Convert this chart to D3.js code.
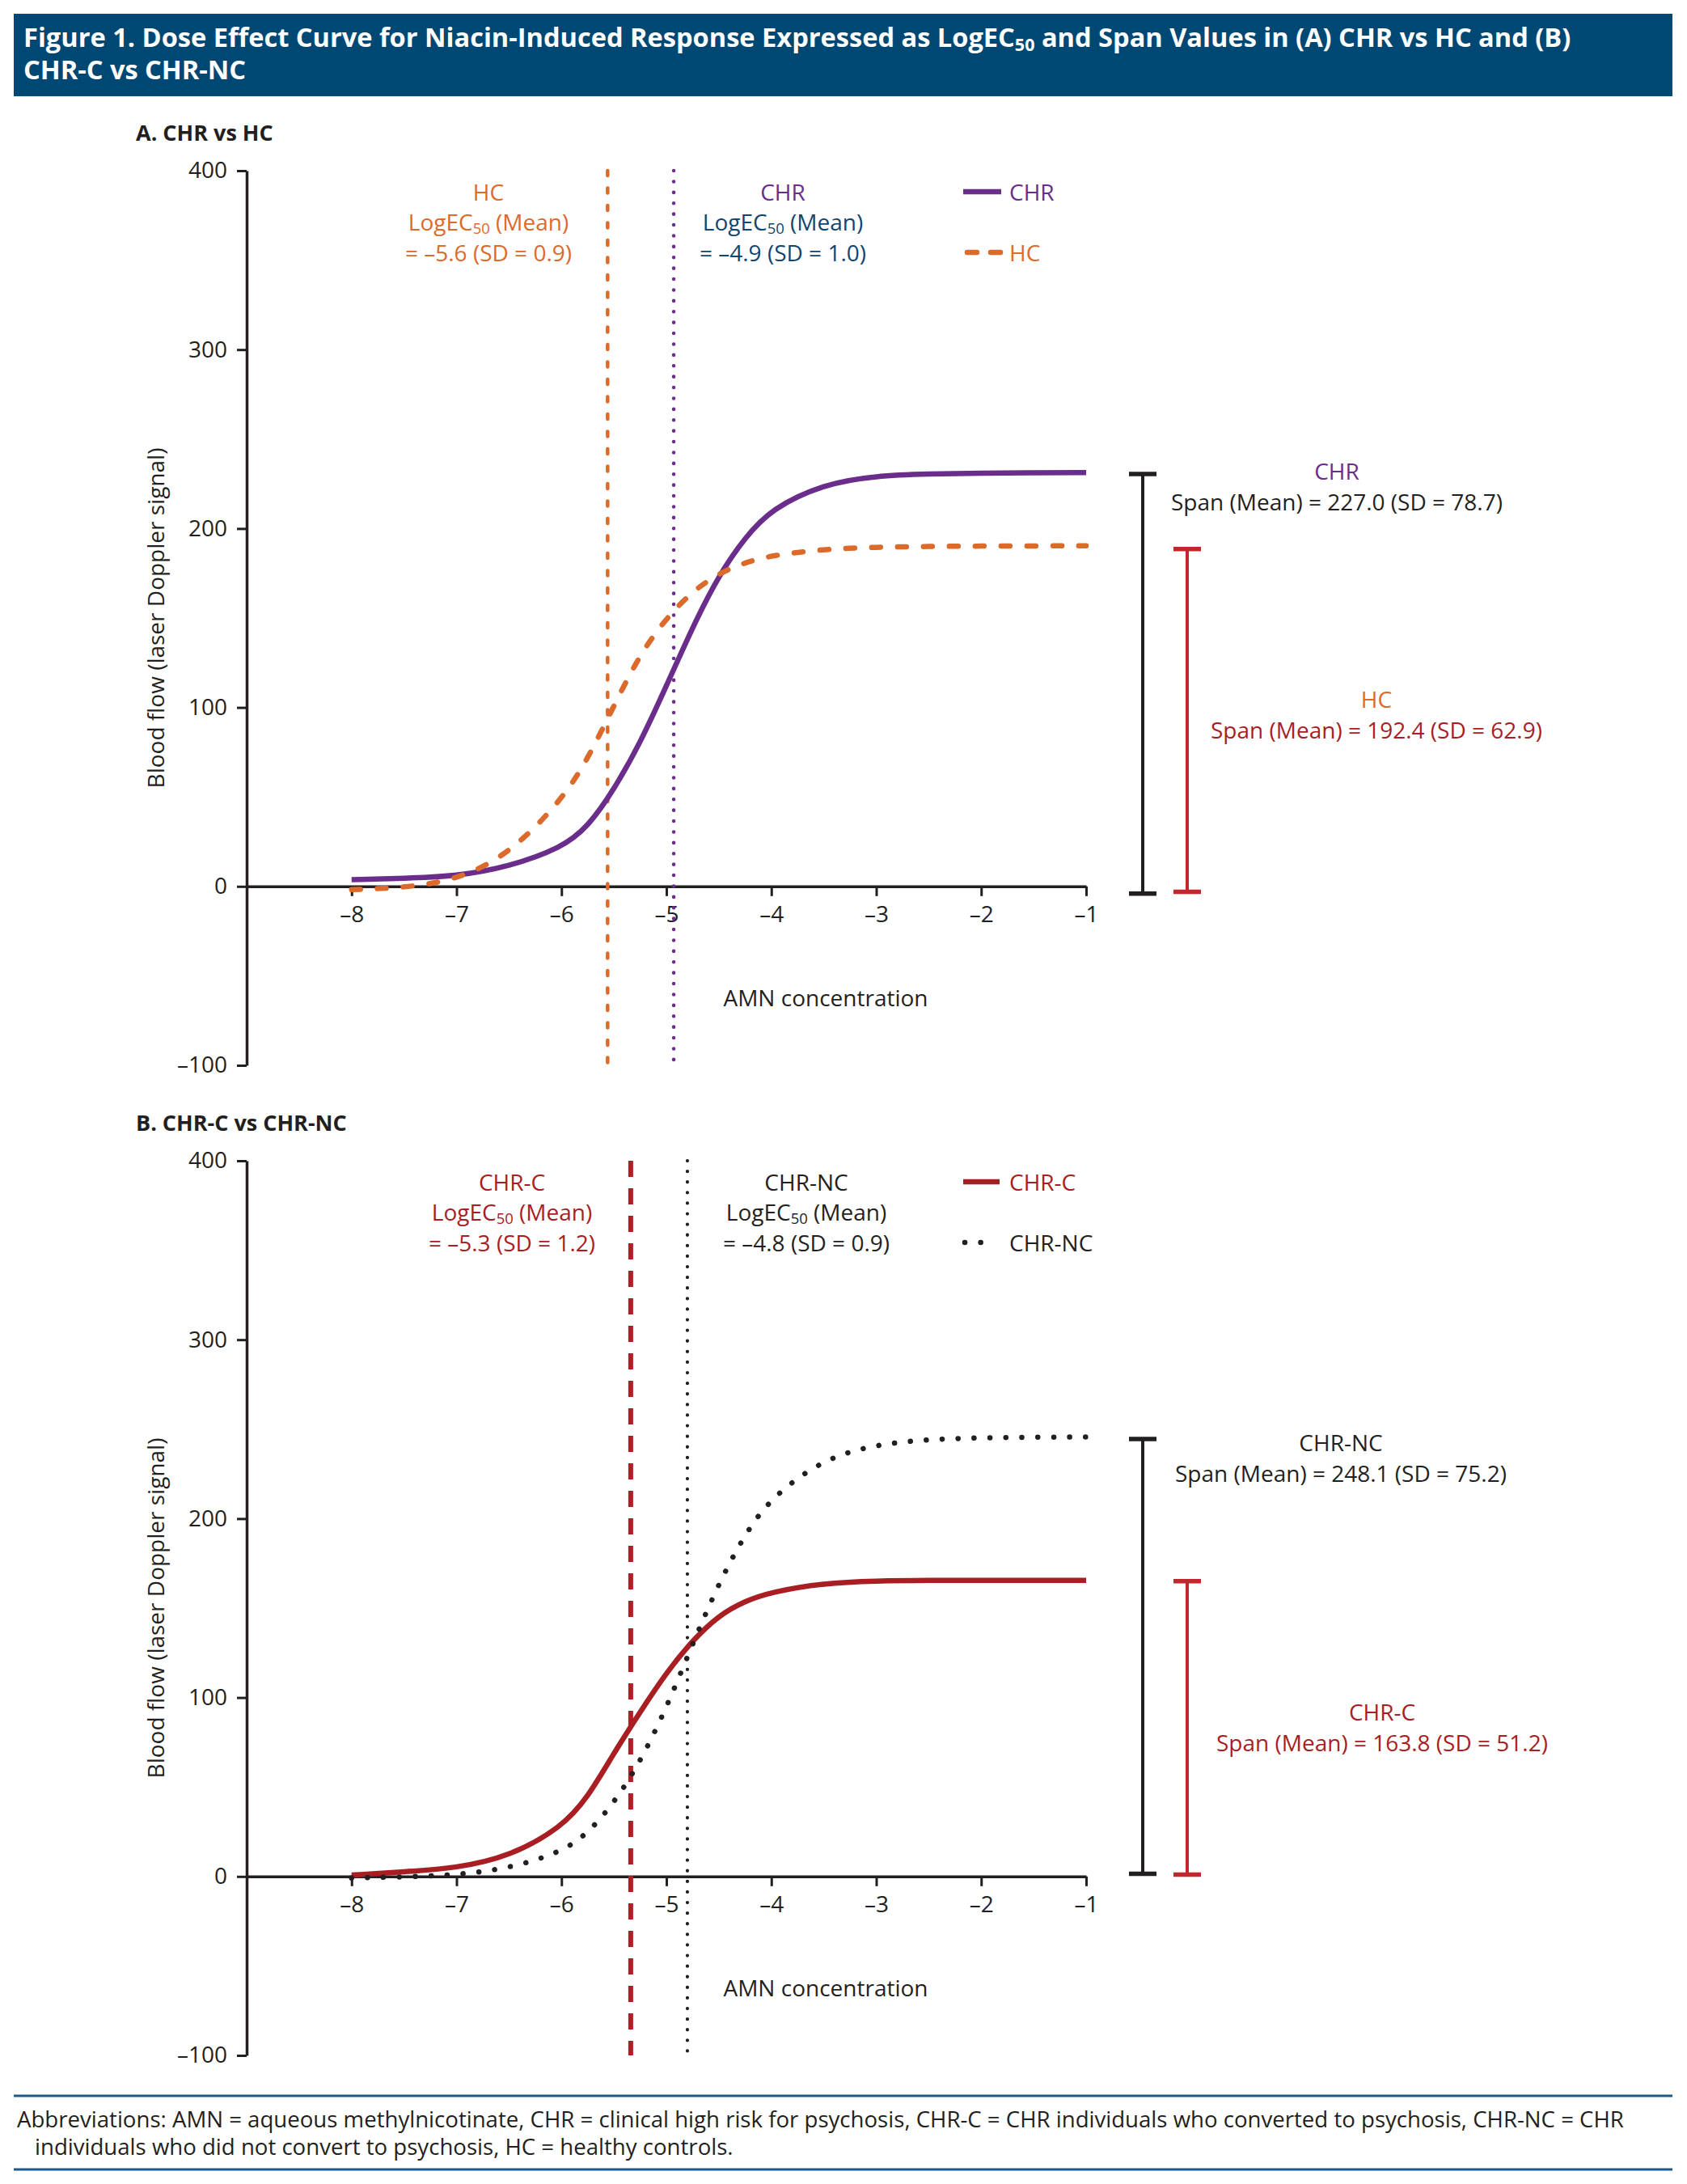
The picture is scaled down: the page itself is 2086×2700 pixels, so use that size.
<!DOCTYPE html>
<html>
<head>
<meta charset="utf-8">
<script src="https://cdn.jsdelivr.net/npm/d3@7"></script>
<style>
body { margin: 0; background: #fff; }
svg text { font-family: "Open Sans", "Noto Sans", sans-serif; }
</style>
</head>
<body>
<script>
// log AMN concentration at which the curves were read
var doses = [-8, -7.5, -7, -6.5, -6, -5.75, -5.5, -5.25, -5, -4.75, -4.5, -4.25, -4, -3.5, -3, -2.5, -2, -1.5, -1];

// panel A
var chr  = [3.8, 4.5, 5.7, 11, 21.5, 33, 54, 80, 112, 145, 174, 195, 211, 225, 229.5, 230.5, 231, 231.2, 231.3];
var hc   = [-1.8, -0.8, 3.5, 17.8, 47.9, 71, 101, 130, 150, 165, 175, 181, 185, 188.5, 189.6, 190, 190.2, 190.3, 190.3];
// panel B
var chrC  = [0.8, 2.5, 4.7, 11, 27.3, 44, 69, 92, 114, 132, 146, 154, 159, 164, 165.2, 165.5, 165.5, 165.5, 165.5];
var chrNC = [-0.8, -0.3, 0.8, 4.5, 13.5, 24, 41, 64, 94, 130, 164, 191.5, 212, 233.6, 241.5, 244.3, 245.2, 245.5, 245.6];

// LogEC50 marker positions (HC, CHR) and (CHR-C, CHR-NC)
var ecA = [-5.56, -4.93];
var ecB = [-5.34, -4.80];

// span bars [bottom, top]
var spanA = [[-4, 230.5], [-3, 188.5]];
var spanB = [[1.5, 244.5], [1, 165]];

var xTicks = [-8, -7, -6, -5, -4, -3, -2, -1];
var yTicks = [-100, 0, 100, 200, 300, 400];

var W = 2086, H = 2700;
var ink = "#231f20", purple = "#6a2d8b", orange = "#dc6a2b", navy = "#0f4670",
    red = "#a81e23", barRed = "#c1272d";

var svg = d3.select("body").append("svg").attr("width", W).attr("height", H);

function minus(d) { return d < 0 ? "\u2013" + Math.abs(d) : String(d); }

// text with a subscript in the middle
function subText(sel, a, s, b, fs) {
    sel.append("tspan").text(a);
    sel.append("tspan").attr("font-size", fs * 0.66).attr("dy", fs * 0.16).text(s);
    sel.append("tspan").attr("dy", -fs * 0.16).text(b);
}

/* Header */
svg.append("rect").attr("x", 17).attr("y", 17).attr("width", 2051).attr("height", 102).attr("fill", "#004874");
var t1 = svg.append("text").attr("x", 29).attr("y", 58).attr("fill", "#fff")
    .attr("font-weight", 700).attr("font-size", 32.6);
subText(t1, "Figure 1. Dose Effect Curve for Niacin-Induced Response Expressed as LogEC", "50",
    " and Span Values in (A) CHR vs HC and (B)", 32.6);
svg.append("text").attr("x", 29).attr("y", 98).attr("fill", "#fff")
    .attr("font-weight", 700).attr("font-size", 32.6).text("CHR-C vs CHR-NC");

var x = d3.scaleLinear().domain([-9, -1]).range([305, 1343]);

function panel(cfg) {
    var g = svg.append("g");
    var y = d3.scaleLinear().domain([-100, 400]).range([cfg.top + 1106, cfg.top]);

    g.append("text").attr("x", 168).attr("y", cfg.top - 37).attr("font-weight", 700)
        .attr("font-size", 27).attr("fill", ink).text(cfg.label);

    // axes
    var xa = g.append("g").attr("transform", "translate(0," + y(0) + ")")
        .call(d3.axisBottom(x).tickValues(xTicks).tickSize(12).tickSizeOuter(0).tickFormat(minus));
    xa.selectAll("text").attr("y", 24).attr("font-size", 28).attr("fill", ink);
    var ya = g.append("g").attr("transform", "translate(305,0)")
        .call(d3.axisLeft(y).tickValues(yTicks).tickSize(12).tickSizeOuter(0).tickFormat(minus));
    ya.selectAll("text").attr("x", -24).attr("font-size", 28).attr("fill", ink);
    g.selectAll(".domain").attr("stroke", ink).attr("stroke-width", 3.5);
    g.selectAll(".tick line").attr("stroke", ink).attr("stroke-width", 3);
    g.selectAll(".tick text").attr("font-family", "'Open Sans', sans-serif");

    g.append("text").attr("transform", "translate(203," + (y(400) + y(-100)) / 2 + ") rotate(-90)")
        .attr("text-anchor", "middle").attr("font-size", 28).attr("fill", ink)
        .text("Blood flow (laser Doppler signal)");
    g.append("text").attr("x", 1021).attr("y", y(0) + 148).attr("text-anchor", "middle")
        .attr("font-size", 28).attr("fill", ink).text("AMN concentration");

    // LogEC50 verticals
    cfg.ec.forEach(function (v, i) {
        var s = cfg.ecStyle[i];
        g.append("line").attr("x1", x(v)).attr("x2", x(v)).attr("y1", y(400)).attr("y2", y(-100))
            .attr("stroke", s.color).attr("stroke-width", s.width)
            .attr("stroke-dasharray", s.dash).attr("stroke-linecap", s.cap);
    });

    // curves
    var line = d3.line().x(function (d, i) { return x(doses[i]); })
        .y(function (d) { return y(d); }).curve(d3.curveBasis);
    cfg.series.forEach(function (s) {
        g.append("path").attr("d", line(s.values)).attr("fill", "none")
            .attr("stroke", s.color).attr("stroke-width", s.width)
            .attr("stroke-dasharray", s.dash).attr("stroke-linecap", s.cap);
    });

    // legend
    cfg.series.forEach(function (s, i) {
        var ly = cfg.top + (i === 0 ? 26 : 101);
        g.append("line").attr("x1", s.lx[0]).attr("x2", s.lx[1]).attr("y1", ly).attr("y2", ly)
            .attr("stroke", s.color).attr("stroke-width", s.width)
            .attr("stroke-dasharray", s.ldash).attr("stroke-linecap", s.cap);
        g.append("text").attr("x", 1248).attr("y", cfg.top + (i === 0 ? 37 : 112))
            .attr("font-size", 28).attr("fill", s.text).text(s.name);
    });

    // LogEC50 notes
    cfg.notes.forEach(function (n) {
        g.append("text").attr("x", n.cx).attr("y", cfg.top + 37).attr("text-anchor", "middle")
            .attr("font-size", 28).attr("fill", n.c1).text(n.name);
        var l2 = g.append("text").attr("x", n.cx).attr("y", cfg.top + 74).attr("text-anchor", "middle")
            .attr("font-size", 28).attr("fill", n.c2);
        subText(l2, "LogEC", "50", " (Mean)", 28);
        g.append("text").attr("x", n.cx).attr("y", cfg.top + 112).attr("text-anchor", "middle")
            .attr("font-size", 28).attr("fill", n.c2).text(n.value);
    });

    // span bars
    cfg.spans.forEach(function (sp, i) {
        var b = cfg.bars[i];
        var bx = b.x;
        var bg = g.append("g").attr("stroke", b.color).attr("stroke-width", 4);
        bg.append("line").attr("x1", bx).attr("x2", bx).attr("y1", y(sp[0])).attr("y2", y(sp[1]));
        [sp[0], sp[1]].forEach(function (v) {
            bg.append("line").attr("x1", bx - 17).attr("x2", bx + 17).attr("y1", y(v)).attr("y2", y(v))
                .attr("stroke-width", 5.5);
        });
        g.append("text").attr("x", b.cx).attr("y", y(b.ty)).attr("text-anchor", "middle")
            .attr("font-size", 28).attr("fill", b.c1).text(b.name);
        g.append("text").attr("x", b.cx).attr("y", y(b.ty) + 38).attr("text-anchor", "middle")
            .attr("font-size", 28).attr("fill", b.c2).text(b.text);
    });
}

panel({
    top: 211,
    label: "A. CHR vs HC",
    ec: ecA,
    ecStyle: [
        { color: orange, width: 4.5, dash: "6 15.5", cap: "round" },
        { color: purple, width: 4.5, dash: "0.1 13.3", cap: "round" }
    ],
    series: [
        { name: "CHR", values: chr, color: purple, text: purple, width: 6.5, dash: null, cap: "butt",
          lx: [1191, 1238], ldash: null },
        { name: "HC", values: hc, color: orange, text: orange, width: 6.5, dash: "11 21", cap: "round",
          lx: [1196, 1237], ldash: "12 17" }
    ],
    notes: [
        { cx: 604, name: "HC", c1: orange, c2: orange, value: "= \u20135.6 (SD = 0.9)" },
        { cx: 968, name: "CHR", c1: purple, c2: navy, value: "= \u20134.9 (SD = 1.0)" }
    ],
    spans: spanA,
    bars: [
        { x: 1413, color: ink, cx: 1653, ty: 227.5, name: "CHR", c1: purple, c2: ink,
          text: "Span (Mean) = 227.0 (SD = 78.7)" },
        { x: 1468, color: barRed, cx: 1702, ty: 100, name: "HC", c1: orange, c2: red,
          text: "Span (Mean) = 192.4 (SD = 62.9)" }
    ]
});

panel({
    top: 1435,
    label: "B. CHR-C vs CHR-NC",
    ec: ecB,
    ecStyle: [
        { color: "#b01f28", width: 6, dash: "20 14", cap: "butt" },
        { color: ink, width: 4.2, dash: "0.1 13", cap: "round" }
    ],
    series: [
        { name: "CHR-C", values: chrC, color: red, text: red, width: 6.5, dash: null, cap: "butt",
          lx: [1191, 1236], ldash: null },
        { name: "CHR-NC", values: chrNC, color: ink, text: ink, width: 6.5, dash: "0.1 19.6", cap: "round",
          lx: [1193, 1232], ldash: "0.1 19.5" }
    ],
    notes: [
        { cx: 633, name: "CHR-C", c1: red, c2: red, value: "= \u20135.3 (SD = 1.2)" },
        { cx: 997, name: "CHR-NC", c1: ink, c2: ink, value: "= \u20134.8 (SD = 0.9)" }
    ],
    spans: spanB,
    bars: [
        { x: 1413, color: ink, cx: 1658, ty: 237.5, name: "CHR-NC", c1: ink, c2: ink,
          text: "Span (Mean) = 248.1 (SD = 75.2)" },
        { x: 1468, color: barRed, cx: 1709, ty: 87, name: "CHR-C", c1: red, c2: red,
          text: "Span (Mean) = 163.8 (SD = 51.2)" }
    ]
});

/* Footer */
svg.append("line").attr("x1", 17).attr("x2", 2068).attr("y1", 2591).attr("y2", 2591)
    .attr("stroke", "#1d5a8c").attr("stroke-width", 3);
svg.append("line").attr("x1", 17).attr("x2", 2068).attr("y1", 2682).attr("y2", 2682)
    .attr("stroke", "#1d5a8c").attr("stroke-width", 3);
svg.append("text").attr("x", 21).attr("y", 2630).attr("font-size", 27.6).attr("fill", ink)
    .text("Abbreviations: AMN = aqueous methylnicotinate, CHR = clinical high risk for psychosis, CHR-C = CHR individuals who converted to psychosis, CHR-NC = CHR");
svg.append("text").attr("x", 43).attr("y", 2664).attr("font-size", 27.6).attr("fill", ink)
    .text("individuals who did not convert to psychosis, HC = healthy controls.");
</script>
</body>
</html>
